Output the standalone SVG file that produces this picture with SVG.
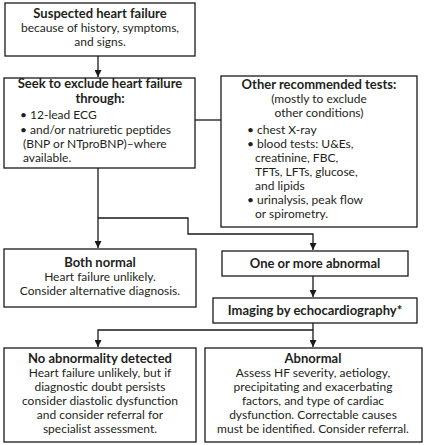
<svg xmlns="http://www.w3.org/2000/svg" width="426" height="445" viewBox="0 0 426 445">
<defs>
<marker id="ah" viewBox="0 0 10 10" refX="10" refY="5" markerWidth="7" markerHeight="7" markerUnits="userSpaceOnUse" orient="auto">
<path d="M0,0 L10,5 L0,10 z" fill="#1a1a1a"/>
</marker>
<style>
rect{fill:#fff;stroke:#1a1a1a;stroke-width:1.3}
text{font-family:Lato,"Liberation Sans",sans-serif;font-size:12px;fill:#231f20}
.b{font-weight:bold;font-size:13px}
.c{text-anchor:middle}
#connectors path{fill:none;stroke:#1a1a1a;stroke-width:1.3}
</style>
</defs>
<rect x="0" y="0" width="426" height="445" style="fill:#fff;stroke:none"/>
<g id="connectors">
<path d="M98,56 V77" marker-end="url(#ah)"/>
<path d="M195,120 H221"/>
<path d="M98,168 V248" marker-end="url(#ah)"/>
<path d="M98,218 H188 V234 H313 V250" marker-end="url(#ah)"/>
<path d="M313,276 V297" marker-end="url(#ah)"/>
<path d="M313,323 V347" marker-end="url(#ah)"/>
<path d="M313,330 H98 V347" marker-end="url(#ah)"/>
</g>
<g id="suspected">
<rect x="5" y="3" width="190" height="53"/>
<text class="c b" x="100" y="18">Suspected heart failure</text>
<text class="c" x="100" y="32">because of history, symptoms,</text>
<text class="c" x="100" y="46">and signs.</text>
</g>
<g id="seek">
<rect x="4" y="78" width="191" height="90"/>
<text class="c b" x="100" y="88">Seek to exclude heart failure</text>
<text class="c b" x="100" y="103">through:</text>
<text x="20" y="119">• 12-lead ECG</text>
<text x="20" y="134">• and/or natriuretic peptides</text>
<text x="23" y="148">(BNP or NTproBNP)–where</text>
<text x="23" y="162">available.</text>
</g>
<g id="other">
<rect x="221" y="76" width="196" height="151"/>
<text class="c b" x="319" y="89">Other recommended tests:</text>
<text class="c" x="319" y="103">(mostly to exclude</text>
<text class="c" x="319" y="117">other conditions)</text>
<text x="247" y="134">• chest X-ray</text>
<text x="247" y="148">• blood tests: U&amp;Es,</text>
<text x="255" y="162">creatinine, FBC,</text>
<text x="255" y="176">TFTs, LFTs, glucose,</text>
<text x="255" y="190">and lipids</text>
<text x="247" y="204">• urinalysis, peak flow</text>
<text x="255" y="218">or spirometry.</text>
</g>
<g id="bothnormal">
<rect x="4" y="249" width="192" height="58"/>
<text class="c b" x="100" y="267">Both normal</text>
<text class="c" x="100" y="281">Heart failure unlikely.</text>
<text class="c" x="100" y="295">Consider alternative diagnosis.</text>
</g>
<g id="abnormalresult">
<rect x="222" y="251" width="186" height="25"/>
<text class="c b" x="315" y="268">One or more abnormal</text>
</g>
<g id="imaging">
<rect x="213" y="298" width="204" height="25"/>
<text class="c b" x="315" y="315">Imaging by echocardiography*</text>
</g>
<g id="noabn">
<rect x="4" y="348" width="192" height="94"/>
<text class="c b" x="100" y="363">No abnormality detected</text>
<text class="c" x="100" y="377">Heart failure unlikely, but if</text>
<text class="c" x="100" y="391">diagnostic doubt persists</text>
<text class="c" x="100" y="405">consider diastolic dysfunction</text>
<text class="c" x="100" y="419">and consider referral for</text>
<text class="c" x="100" y="433">specialist assessment.</text>
</g>
<g id="abnormal">
<rect x="205" y="348" width="217" height="94"/>
<text class="c b" x="313" y="363">Abnormal</text>
<text class="c" x="313" y="377">Assess HF severity, aetiology,</text>
<text class="c" x="313" y="391">precipitating and exacerbating</text>
<text class="c" x="313" y="405">factors, and type of cardiac</text>
<text class="c" x="313" y="419">dysfunction. Correctable causes</text>
<text class="c" x="313" y="433">must be identified. Consider referral.</text>
</g>
</svg>
